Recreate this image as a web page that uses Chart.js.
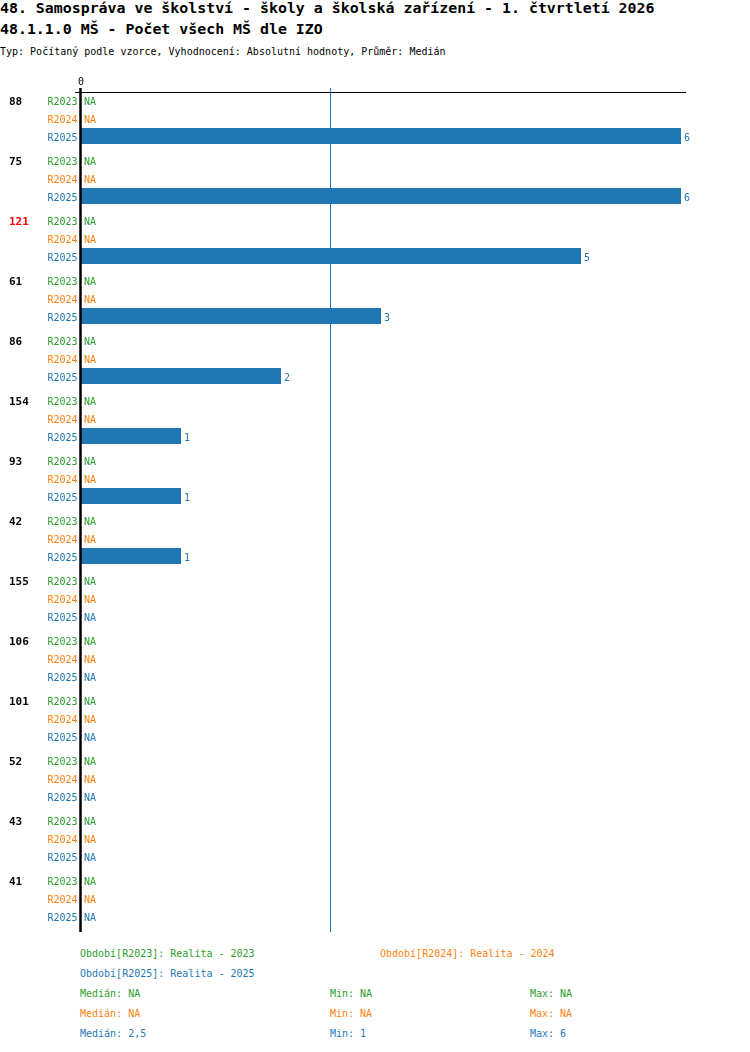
<!DOCTYPE html>
<html>
<head>
<meta charset="utf-8">
<script src="https://cdn.jsdelivr.net/npm/chart.js@4/dist/chart.umd.min.js"></script>
<style>
  body { margin: 0; background: #fff; font-family: "DejaVu Sans Mono", monospace; }
  #wrap { position: relative; width: 750px; height: 1052px; }
  .t { position: absolute; white-space: pre; }
  .h1 { font-weight: bold; font-size: 14.9px; line-height: 15px; left: 0; }
  .sub { font-size: 10px; line-height: 10px; left: 0; top: 47px; }
  .f { font-size: 10px; line-height: 20px; }
  #chart { position: absolute; left: 0; top: 0; }
</style>
</head>
<body>
<div id="wrap">
  <div class="t h1" style="top:1px">48. Samospráva ve školství - školy a školská zařízení - 1. čtvrtletí 2026</div>
  <div class="t h1" style="top:22px">48.1.1.0 MŠ - Počet všech MŠ dle IZO</div>
  <div class="t sub">Typ: Počítaný podle vzorce, Vyhodnocení: Absolutní hodnoty, Průměr: Medián</div>
  <canvas id="chart" width="750" height="940"></canvas>
  <div id="footer"></div>
</div>

<script>
// groups (row ids) shown on the left, top to bottom
const groups = ['88', '75', '121', '61', '86', '154', '93', '42', '155', '106', '101', '52', '43', '41'];
const highlighted = ['121'];

// series per period, null = NA
const periods = ['R2023', 'R2024', 'R2025'];
const periodNames = ['Realita - 2023', 'Realita - 2024', 'Realita - 2025'];
const colors = ['#2ca02c', '#ff7f0e', '#1f77b4'];
const r2023 = [null, null, null, null, null, null, null, null, null, null, null, null, null, null];
const r2024 = [null, null, null, null, null, null, null, null, null, null, null, null, null, null];
const r2025 = [6, 6, 5, 3, 2, 1, 1, 1, null, null, null, null, null, null];
const series = [r2023, r2024, r2025];

const xTicks = [0];

const FONT = '"DejaVu Sans Mono", monospace';

function fmt(v) { return String(v).replace('.', ','); }

function stats(arr) {
  const v = arr.filter(x => x != null).sort((a, b) => a - b);
  if (!v.length) return { med: null, min: null, max: null };
  const n = v.length;
  const med = n % 2 ? v[(n - 1) / 2] : (v[n / 2 - 1] + v[n / 2]) / 2;
  return { med, min: v[0], max: v[n - 1] };
}

const allStats = series.map(stats);
const medianAll = stats(series.flat()).med;

// ——— chart-side drawing: axes, median line, labels ———
const decor = {
  id: 'decor',
  beforeDatasetsDraw(chart) {
    const { ctx, chartArea: a, scales: { x } } = chart;
    ctx.save();
    // median line
    if (medianAll != null) {
      const mx = Math.round(x.getPixelForValue(medianAll)) - 0.5;
      ctx.strokeStyle = '#1f77b4';
      ctx.lineWidth = 1;
      ctx.beginPath();
      ctx.moveTo(mx, a.top);
      ctx.lineTo(mx, a.bottom + 4);
      ctx.stroke();
    }
    ctx.restore();
  },
  afterDatasetsDraw(chart) {
    const { ctx, chartArea: a, scales: { x } } = chart;
    ctx.save();
    // top axis line
    ctx.strokeStyle = '#000';
    ctx.lineWidth = 1.2;
    ctx.beginPath();
    ctx.moveTo(a.left - 6, a.top + 4.5);
    ctx.lineTo(a.right, a.top + 4.5);
    ctx.stroke();
    // left axis line
    ctx.lineWidth = 2.5;
    ctx.beginPath();
    ctx.moveTo(a.left - 0.5, a.top);
    ctx.lineTo(a.left - 0.5, a.bottom + 4);
    ctx.stroke();
    // ticks on top
    ctx.font = '10px ' + FONT;
    ctx.fillStyle = '#000';
    ctx.textAlign = 'center';
    ctx.textBaseline = 'middle';
    xTicks.forEach(t => ctx.fillText(String(t), x.getPixelForValue(t), a.top - 6));

    // row labels, NA and values
    chart.data.datasets.forEach((ds, d) => {
      const meta = chart.getDatasetMeta(d);
      meta.data.forEach((bar, i) => {
        const yy = bar.y + 2;
        ctx.font = '10px ' + FONT;
        ctx.fillStyle = colors[d];
        ctx.textAlign = 'right';
        ctx.fillText(ds.label, a.left - 3.5, yy);
        ctx.textAlign = 'left';
        const v = ds.data[i];
        if (v == null) ctx.fillText('NA', x.getPixelForValue(0) + 3, yy);
        else ctx.fillText(fmt(v), x.getPixelForValue(v) + 3, yy);
      });
    });

    // group labels (same line as first period)
    const first = chart.getDatasetMeta(0).data;
    ctx.font = 'bold 11px ' + FONT;
    ctx.textAlign = 'left';
    groups.forEach((g, i) => {
      ctx.fillStyle = highlighted.includes(g) ? '#ff0000' : '#000';
      ctx.fillText(g, 9, first[i].y + 2);
    });
    ctx.restore();
  }
};

new Chart(document.getElementById('chart'), {
  type: 'bar',
  data: {
    labels: groups,
    datasets: periods.map((p, d) => ({
      label: p,
      data: series[d],
      backgroundColor: colors[d],
      borderWidth: 0,
      barPercentage: 16 / 18,
      categoryPercentage: 0.9
    }))
  },
  options: {
    indexAxis: 'y',
    responsive: false,
    animation: false,
    devicePixelRatio: 1,
    layout: { padding: { left: 81, right: 64, top: 88, bottom: 12 } },
    plugins: { legend: { display: false }, tooltip: { enabled: false }, title: { display: false } },
    scales: {
      x: { display: false, min: 0, max: 6.05 },
      y: { display: false }
    }
  },
  plugins: [decor]
});

// ——— footer: period names and stats ———
const footer = document.getElementById('footer');
function addText(txt, left, top, color) {
  const el = document.createElement('div');
  el.className = 't f';
  el.style.left = left + 'px';
  el.style.top = top + 'px';
  el.style.color = color;
  el.textContent = txt;
  footer.appendChild(el);
}
addText(`Období[${periods[0]}]: ${periodNames[0]}`, 80, 944, colors[0]);
addText(`Období[${periods[1]}]: ${periodNames[1]}`, 380, 944, colors[1]);
addText(`Období[${periods[2]}]: ${periodNames[2]}`, 80, 964, colors[2]);
allStats.forEach((s, d) => {
  const top = 984 + d * 20;
  const f = v => v == null ? 'NA' : fmt(v);
  addText(`Medián: ${f(s.med)}`, 80, top, colors[d]);
  addText(`Min: ${f(s.min)}`, 330, top, colors[d]);
  addText(`Max: ${f(s.max)}`, 530, top, colors[d]);
});
</script>
</body>
</html>
